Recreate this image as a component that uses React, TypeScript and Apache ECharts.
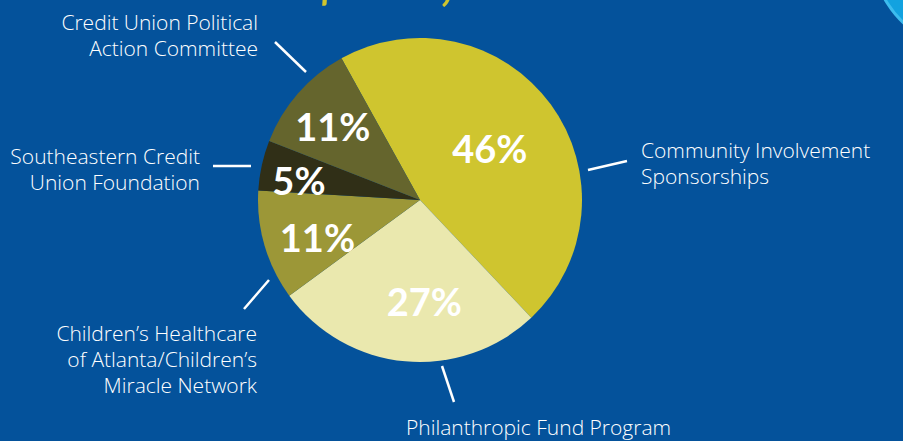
import React, { useEffect, useRef } from "react";
import * as echarts from "echarts";

const categories = [
  "Community Involvement\nSponsorships",
  "Philanthropic Fund Program",
  "Children\u2019s Healthcare\nof Atlanta/Children\u2019s\nMiracle Network",
  "Southeastern Credit\nUnion Foundation",
  "Credit Union Political\nAction Committee",
];
const percents = [46, 27, 11, 5, 11];
const sliceColors = ["#CFC52F", "#EAE8AE", "#9C9737", "#302F17", "#65652D"];
const titleText = "$142,735";

// label placement (annotation layout)
const insideShift = [
  [2, -2],
  [12, 17],
  [-22, 13],
  [-39, -2],
  [-24, -19],
];
const outerLabelPos = [
  { x: 641, y: 163, align: "left" },
  { x: 406, y: 427, align: "left" },
  { x: 257, y: 359, align: "right" },
  { x: 200, y: 169, align: "right" },
  { x: 258, y: 35, align: "right" },
];
const outerLines = [
  [[588, 170], [627, 161]],
  [[442, 366], [454, 402]],
  [[269, 280], [244, 309]],
  [[251, 166], [213, 166]],
  [[306, 72], [275, 42]],
];

export default function App() {
  const ref = useRef<HTMLDivElement>(null);
  useEffect(() => {
    if (!ref.current) return;
    const chart = echarts.init(ref.current, null, { renderer: "svg" });
    const data = categories.map((name, i) => ({
      name,
      value: percents[i],
      itemStyle: { color: sliceColors[i] },
    }));
    chart.setOption({
      animation: false,
      backgroundColor: "#04529B",
      graphic: [
        {
          type: "circle",
          shape: { cx: 972, cy: -50, r: 100 },
          style: { fill: "#12A2E0", stroke: "#3DBCEE", lineWidth: 3 },
          z: 1,
        },
        {
          type: "text",
          x: 430,
          y: 5,
          style: {
            text: titleText,
            fill: "#CFC52F",
            font: "bold 56px Lato",
            textAlign: "center",
            textVerticalAlign: "bottom",
          },
        },
      ],
      series: [
        {
          type: "pie",
          center: [420, 200],
          radius: [0, 162],
          startAngle: 119,
          clockwise: true,
          silent: true,
          data,
          label: {
            show: true,
            position: "inside",
            formatter: "{c}%",
            color: "#FFFFFF",
            fontFamily: "Lato",
            fontWeight: "bold",
            fontSize: 38,
          },
          labelLine: { show: false },
          labelLayout: (p: any) => ({
            dx: insideShift[p.dataIndex][0],
            dy: insideShift[p.dataIndex][1],
          }),
        },
        {
          type: "pie",
          center: [420, 200],
          radius: [150, 162],
          startAngle: 119,
          clockwise: true,
          silent: true,
          z: 0,
          data: categories.map((name, i) => ({
            name,
            value: percents[i],
            itemStyle: { color: "rgba(0,0,0,0)" },
          })),
          label: {
            show: true,
            position: "outside",
            formatter: "{b}",
            color: "#FFFFFF",
            fontFamily: "Open Sans",
            fontWeight: 300,
            fontSize: 21,
            lineHeight: 26,
          },
          labelLine: {
            show: true,
            length: 20,
            length2: 0,
            lineStyle: { color: "#FFFFFF", width: 2.5 },
          },
          labelLayout: (p: any) => {
            const pos = outerLabelPos[p.dataIndex];
            const ln = outerLines[p.dataIndex];
            const mid = [(ln[0][0] + ln[1][0]) / 2, (ln[0][1] + ln[1][1]) / 2];
            return {
              x: pos.x,
              y: pos.y,
              align: pos.align,
              verticalAlign: "middle",
              labelLinePoints: [ln[0], mid, ln[1]],
            };
          },
        },
      ],
    });
    return () => chart.dispose();
  }, []);
  return (
    <div style={{ position: "absolute", left: 0, top: 0 }}>
      <div ref={ref} style={{ width: 903, height: 441 }} />
    </div>
  );
}
